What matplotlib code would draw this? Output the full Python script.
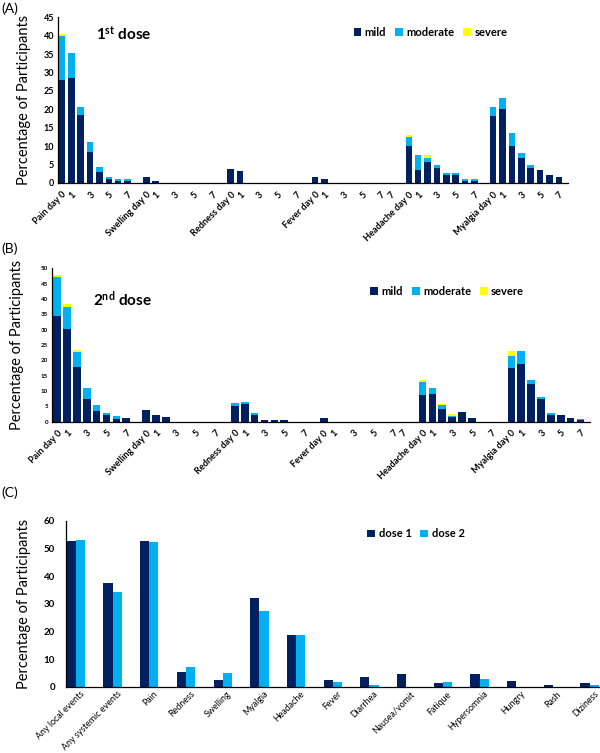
import matplotlib
matplotlib.use("Agg")
import matplotlib.pyplot as plt
import matplotlib.transforms as mtransforms
import numpy as np

plt.rcParams['font.family'] = ['Lato', 'DejaVu Sans']
plt.rcParams['mathtext.fontset'] = 'custom'
plt.rcParams['mathtext.rm'] = 'Lato'
plt.rcParams['mathtext.bf'] = 'Lato:bold'

NAVY = '#002060'
CYAN = '#00B0F0'
YELLOW = '#FFFF00'

# ---- panel A / B data: percentage by day 0..7 ----
symptoms = ['Pain', 'Swelling', 'Redness', 'Fever', 'Headache', 'Myalgia']

d1_mild = {
    'Pain':     [28.0, 28.5, 18.4, 8.4, 3.1, 1.0, 0.45, 0.45],
    'Swelling': [1.6, 0.45, 0, 0, 0, 0, 0, 0],
    'Redness':  [3.7, 3.3, 0, 0, 0, 0, 0, 0],
    'Fever':    [1.6, 1.1, 0, 0, 0, 0, 0, 0],
    'Headache': [10.1, 3.6, 5.7, 4.1, 2.2, 2.2, 0.45, 0.45],
    'Myalgia':  [18.3, 20.0, 10.1, 6.9, 4.1, 3.6, 2.3, 1.5],
}
d1_moderate = {
    'Pain':     [11.9, 6.7, 2.3, 2.85, 1.3, 0.6, 0.55, 0.55],
    'Swelling': [0, 0, 0, 0, 0, 0, 0, 0],
    'Redness':  [0, 0, 0, 0, 0, 0, 0, 0],
    'Fever':    [0, 0, 0, 0, 0, 0, 0, 0],
    'Headache': [2.4, 4.0, 1.1, 0.7, 0.5, 0.5, 0.55, 0.55],
    'Myalgia':  [2.3, 3.2, 3.4, 1.2, 0.7, 0, 0, 0],
}
d1_severe = {
    'Pain':     [0.6, 0, 0, 0, 0, 0, 0, 0],
    'Swelling': [0, 0, 0, 0, 0, 0, 0, 0],
    'Redness':  [0, 0, 0, 0, 0, 0, 0, 0],
    'Fever':    [0, 0, 0, 0, 0, 0, 0, 0],
    'Headache': [0.6, 0, 0.7, 0, 0, 0, 0, 0],
    'Myalgia':  [0, 0, 0, 0, 0, 0, 0, 0],
}

d2_mild = {
    'Pain':     [34.6, 30.3, 17.9, 7.5, 3.6, 2.2, 1.0, 1.2],
    'Swelling': [3.7, 2.3, 1.6, 0, 0, 0, 0, 0],
    'Redness':  [5.2, 5.8, 2.1, 0.4, 0.4, 0.4, 0, 0],
    'Fever':    [1.1, 0, 0, 0, 0, 0, 0, 0],
    'Headache': [8.7, 9.0, 4.1, 1.5, 3.3, 1.1, 0, 0],
    'Myalgia':  [17.5, 18.9, 12.4, 7.4, 2.2, 2.2, 1.1, 0.4],
}
d2_moderate = {
    'Pain':     [12.7, 7.2, 4.8, 3.6, 1.9, 0.5, 0.7, 0],
    'Swelling': [0, 0, 0, 0, 0, 0, 0, 0],
    'Redness':  [0.8, 0.6, 0.6, 0, 0, 0, 0, 0],
    'Fever':    [0, 0, 0, 0, 0, 0, 0, 0],
    'Headache': [4.1, 1.9, 1.2, 0.5, 0, 0, 0, 0],
    'Myalgia':  [4.0, 4.0, 1.2, 0.6, 0.6, 0, 0, 0.6],
}
d2_severe = {
    'Pain':     [0.6, 0.7, 0.7, 0, 0, 0, 0, 0],
    'Swelling': [0, 0, 0, 0, 0, 0, 0, 0],
    'Redness':  [0, 0, 0, 0, 0, 0, 0, 0],
    'Fever':    [0, 0, 0, 0, 0, 0, 0, 0],
    'Headache': [0.7, 0, 0.6, 0.5, 0, 0, 0, 0],
    'Myalgia':  [1.4, 0, 0, 0, 0, 0, 0, 0],
}

# ---- panel C data ----
events = ['Any local events', 'Any systemic events', 'Pain', 'Redness', 'Swelling',
          'Myalgia', 'Headache', 'Fever', 'Diarrhea', 'Nausea/vomit', 'Fatique',
          'Hypersomnia', 'Hungry', 'Rash', 'Diziness']
dose1 = [52.5, 37.5, 52.5, 5.5, 2.4, 32.0, 18.6, 2.4, 3.5, 4.5, 1.4, 4.5, 1.9, 0.7, 1.3]
dose2 = [52.9, 34.2, 52.2, 7.2, 5.1, 27.2, 18.6, 1.7, 0.6, 0.0, 1.7, 2.8, 0.0, 0.0, 0.6]


def build_categories(mild, moderate, severe):
    """Lay out categories: each symptom day 0..7 then a blank slot
    (Fever has an extra '7' slot, as in the original)."""
    labels, m, mo, s = [], [], [], []
    for sym in symptoms:
        day_labels = [f'{sym} day 0', '1', '', '3', '', '5', '', '7']
        labels += day_labels
        m += mild[sym]
        mo += moderate[sym]
        s += severe[sym]
        extra = ['7', ''] if sym == 'Fever' else ['']
        labels += extra
        m += [0] * len(extra)
        mo += [0] * len(extra)
        s += [0] * len(extra)
    return labels, np.array(m), np.array(mo), np.array(s)


fig = plt.figure(figsize=(6, 7.53), dpi=100)


def stacked_panel(rect, mild, moderate, severe, ymax, ystep, title, width,
                  ytick_size, legend_pos, title_pos, xlim, labelpad):
    ax = fig.add_axes(rect)
    labels, m, mo, s = build_categories(mild, moderate, severe)
    x = np.arange(len(labels))
    ax.bar(x, m, width, color=NAVY, label='mild')
    ax.bar(x, mo, width, bottom=m, color=CYAN, label='moderate')
    ax.bar(x, s, width, bottom=m + mo, color=YELLOW, label='severe')
    ax.set_xlim(*xlim)
    ax.set_ylim(0, ymax)
    ax.set_yticks(np.arange(0, ymax + 1, ystep))
    ax.tick_params(axis='y', labelsize=ytick_size, length=0, pad=3)
    for t in ax.get_yticklabels():
        t.set_fontweight('bold')
    ax.set_xticks(x)
    ax.set_xticklabels(labels, rotation=45, ha='right', rotation_mode='anchor',
                       fontsize=6.6, fontweight='bold')
    ax.tick_params(axis='x', length=0, pad=5)
    for sp in ['top', 'right']:
        ax.spines[sp].set_visible(False)
    ax.spines['left'].set_linewidth(0.9)
    ax.spines['bottom'].set_linewidth(0.9)
    ax.set_ylabel('Percentage of Participants', fontsize=10.5, labelpad=labelpad)
    ax.text(title_pos[0], title_pos[1], title, transform=ax.transAxes,
            fontsize=11, fontweight='bold', va='center', ha='left')
    ax.legend(loc='center', bbox_to_anchor=legend_pos, ncol=3, frameon=False,
              handlelength=0.7, handleheight=0.7, handletextpad=0.3,
              columnspacing=0.8, prop={'weight': 'bold', 'size': 8})
    return ax


# (A) 1st dose
stacked_panel([0.097, 0.757, 0.85, 0.22], d1_mild, d1_moderate, d1_severe,
              45, 5, r'$\mathbf{1^{st}}$ dose', 0.7, 6.5,
              (0.73, 0.91), (0.075, 0.9), (-0.4, 53.5), 9)
fig.text(0.002, 0.988, '(A)', fontsize=10, va='center')

# (B) 2nd dose
stacked_panel([0.087, 0.44, 0.897, 0.2037], d2_mild, d2_moderate, d2_severe,
              50, 5, r'$\mathbf{2^{nd}}$ dose', 0.77, 4.5,
              (0.734, 0.85), (0.075, 0.8), (-0.5, 53.5), 12)
fig.text(0.002, 0.67, '(B)', fontsize=10, va='center')

# (C) dose 1 vs dose 2
axc = fig.add_axes([0.11, 0.088, 0.888, 0.2205])
xc = np.arange(len(events))
bw = 0.25
axc.bar(xc - bw / 2, dose1, bw, color=NAVY, label='dose 1')
axc.bar(xc + bw / 2, dose2, bw, color=CYAN, label='dose 2')
axc.set_xlim(-0.27, 14.25)
axc.set_ylim(0, 60)
axc.set_yticks(np.arange(0, 61, 10))
axc.tick_params(axis='y', labelsize=7, length=0, pad=8)
for t in axc.get_yticklabels():
    t.set_fontweight('bold')
axc.set_xticks(xc)
axc.set_xticklabels(events, rotation=45, ha='right', rotation_mode='anchor',
                    fontsize=6.4)
axc.tick_params(axis='x', length=0, pad=2)
# nudge the rotated labels a little to the right, like the original
shift = mtransforms.ScaledTranslation(4 / 100, 0, fig.dpi_scale_trans)
for t in axc.get_xticklabels():
    t.set_transform(t.get_transform() + shift)
for sp in ['top', 'right']:
    axc.spines[sp].set_visible(False)
axc.spines['left'].set_linewidth(0.9)
axc.spines['bottom'].set_linewidth(0.9)
axc.set_ylabel('Percentage of Participants', fontsize=10.5, labelpad=9)
axc.legend(loc='center', bbox_to_anchor=(0.657, 0.92), ncol=2, frameon=False,
           handlelength=0.7, handleheight=0.7, handletextpad=0.3,
           columnspacing=0.8, prop={'weight': 'bold', 'size': 8})
fig.text(0.002, 0.345, '(C)', fontsize=10, va='center')

fig.savefig('out.png', dpi=100)
